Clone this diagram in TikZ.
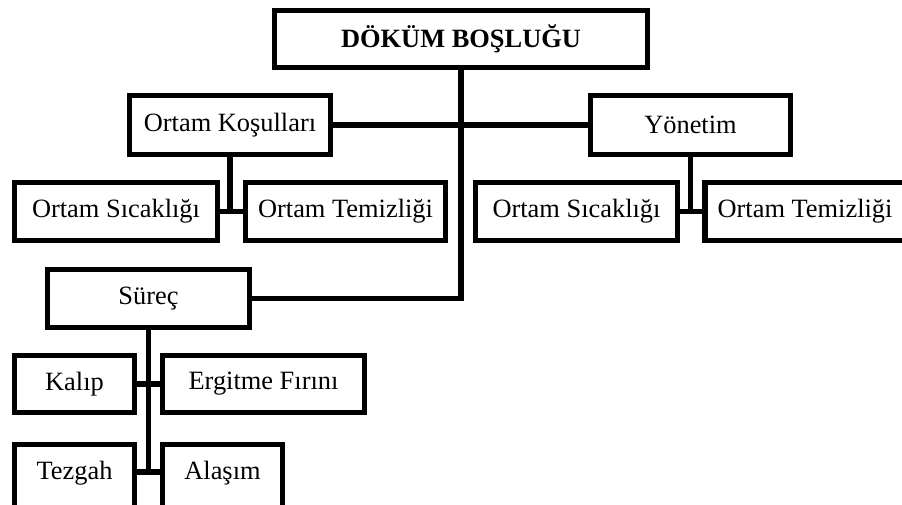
\documentclass[tikz,border=0pt]{standalone}
\usepackage{fontspec}
\setmainfont{Liberation Serif}
\begin{document}
\begin{tikzpicture}[x=1pt,y=-1pt,
  box/.style={draw=black,line width=5.5pt,fill=white,inner sep=0pt,
    minimum width=#1,minimum height=58pt,font=\fontsize{26.4}{30}\selectfont},
  box/.default=200pt,
  lowbox/.style={box=#1,minimum height=64pt,text height=18pt,text depth=12.5pt},
  link/.style={draw=black,line width=5.5pt,line join=miter}]
\useasboundingbox (0,0) rectangle (902,504);
\clip (0,0) rectangle (902,504);

% root
\node[box=373pt,minimum height=57pt,font=\fontsize{26.4}{30}\selectfont\bfseries] (root) at (461,39) {DÖKÜM BOŞLUĞU};

% second level
\node[box=201pt,minimum height=59pt] (kos) at (230,125) {Ortam Koşulları};
\node[box=200pt,minimum height=59pt] (yon) at (690.5,125) {Yönetim};
\node[box=202pt] (sur) at (148.5,298.5) {Süreç};

% children of Ortam Koşulları
\node[box=203pt] (sic1) at (116,211.5) {Ortam Sıcaklığı};
\node[box=200pt] (tem1) at (345.5,211.5) {Ortam Temizliği};

% children of Yönetim
\node[box=202pt] (sic2) at (576.5,211.5) {Ortam Sıcaklığı};
\node[box=200pt] (tem2) at (805,211.5) {Ortam Temizliği};

% children of Süreç (the last row runs past the lower edge)
\node[box=120pt,minimum height=57pt] (kal) at (74.5,384) {Kalıp};
\node[box=202pt,minimum height=57pt] (erg) at (263.5,384) {Ergitme Fırını};
\node[lowbox=120pt] (tez) at (74.5,476.5) {Tezgah};
\node[lowbox=120pt] (ala) at (222.5,476.5) {Alaşım};

% connectors
\coordinate (jk) at (kos.south |- sic1.east);
\coordinate (jy) at (yon.south |- sic2.east);
\coordinate (te) at ([yshift=4.5pt]tez.east);
\coordinate (aw) at ([yshift=4.5pt]ala.west);
\coordinate (js) at (sur.south |- te);

\path[link] (root.south) |- (sur.east);
\path[link] (kos.east) -- (yon.west);
\path[link] (kos.south) -- (jk);
\path[link] (sic1.east) -- (tem1.west);
\path[link] (yon.south) -- (jy);
\path[link] (sic2.east) -- (tem2.west);
\path[link] (sur.south) -- (js);
\path[link] (kal.east) -- (erg.west);
\path[link] (te) -- (aw);
\end{tikzpicture}
\end{document}
